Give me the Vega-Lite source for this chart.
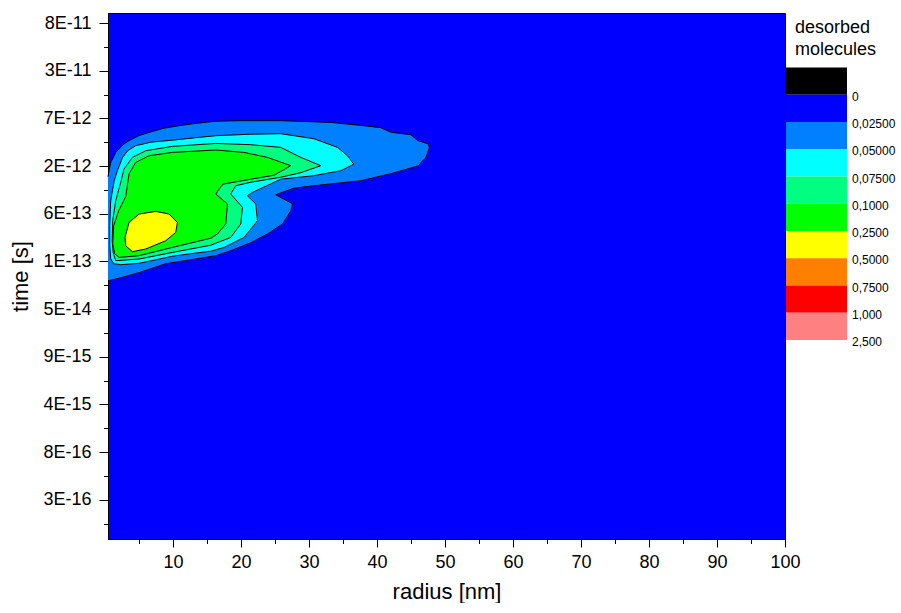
{
  "$schema": "https://vega.github.io/schema/vega-lite/v6.json",
  "padding": {"left": 9, "top": 12, "right": 0, "bottom": 0},
  "background": "white",
  "spacing": 1,
  "bounds": "flush",
  "resolve": {"scale": {"fill": "independent", "x": "independent", "y": "independent"}},
  "config": {"view": {"stroke": null}, "font": "Liberation Sans"},
  "hconcat": [
    {
      "width": 677,
      "height": 526,
      "view": {"fill": "#0000ff", "stroke": "#000000", "strokeWidth": 1},
      "data": {"values": [
        {"level":1,"i":0,"r":0.44,"t":6.776},{"level":1,"i":1,"r":0.588,"t":6.902},{"level":1,"i":2,"r":0.839,"t":7.070},{"level":1,"i":3,"r":1.574,"t":7.286},{"level":1,"i":4,"r":2.457,"t":7.426},{"level":1,"i":5,"r":3.531,"t":7.531},{"level":1,"i":6,"r":4.958,"t":7.636},{"level":1,"i":7,"r":6.473,"t":7.705},{"level":1,"i":8,"r":8.636,"t":7.793},{"level":1,"i":9,"r":10.887,"t":7.846},{"level":1,"i":10,"r":13.491,"t":7.898},{"level":1,"i":11,"r":16.286,"t":7.940},{"level":1,"i":12,"r":19.964,"t":7.951},{"level":1,"i":13,"r":25.849,"t":7.951},{"level":1,"i":14,"r":33.205,"t":7.915},{"level":1,"i":15,"r":38.060,"t":7.846},{"level":1,"i":16,"r":40.561,"t":7.804},{"level":1,"i":17,"r":42.032,"t":7.709},{"level":1,"i":18,"r":44.975,"t":7.657},{"level":1,"i":19,"r":46.004,"t":7.531},{"level":1,"i":20,"r":47.475,"t":7.468},{"level":1,"i":21,"r":47.696,"t":7.384},{"level":1,"i":22,"r":47.181,"t":7.174},{"level":1,"i":23,"r":46.446,"t":7.070},{"level":1,"i":24,"r":46.152,"t":7.007},{"level":1,"i":25,"r":42.032,"t":6.839},{"level":1,"i":26,"r":37.619,"t":6.692},{"level":1,"i":27,"r":30.704,"t":6.587},{"level":1,"i":28,"r":27.762,"t":6.535},{"level":1,"i":29,"r":25.114,"t":6.398},{"level":1,"i":30,"r":27.571,"t":6.209},{"level":1,"i":31,"r":27.321,"t":6.063},{"level":1,"i":32,"r":26.143,"t":5.790},{"level":1,"i":33,"r":23.937,"t":5.580},{"level":1,"i":34,"r":21.436,"t":5.391},{"level":1,"i":35,"r":18.493,"t":5.224},{"level":1,"i":36,"r":16.286,"t":5.119},{"level":1,"i":37,"r":12.608,"t":5.035},{"level":1,"i":38,"r":8.930,"t":4.951},{"level":1,"i":39,"r":6.723,"t":4.846},{"level":1,"i":40,"r":4.958,"t":4.762},{"level":1,"i":41,"r":2.310,"t":4.657},{"level":1,"i":42,"r":0.839,"t":4.605},{"level":1,"i":43,"r":0.44,"t":4.594},
        {"level":2,"i":0,"r":0.691,"t":5.748},{"level":2,"i":1,"r":0.691,"t":5.328},{"level":2,"i":2,"r":0.839,"t":5.056},{"level":2,"i":3,"r":1.280,"t":4.951},{"level":2,"i":4,"r":2.310,"t":4.930},{"level":2,"i":5,"r":4.958,"t":4.958},{"level":2,"i":6,"r":6.723,"t":5.010},{"level":2,"i":7,"r":9.916,"t":5.108},{"level":2,"i":8,"r":12.608,"t":5.161},{"level":2,"i":9,"r":15.551,"t":5.213},{"level":2,"i":10,"r":17.507,"t":5.293},{"level":2,"i":11,"r":20.450,"t":5.503},{"level":2,"i":12,"r":22.421,"t":5.853},{"level":2,"i":13,"r":22.171,"t":6.203},{"level":2,"i":14,"r":20.950,"t":6.377},{"level":2,"i":15,"r":21.685,"t":6.447},{"level":2,"i":16,"r":25.849,"t":6.724},{"level":2,"i":17,"r":30.704,"t":6.797},{"level":2,"i":18,"r":34.677,"t":6.902},{"level":2,"i":19,"r":36.589,"t":7.038},{"level":2,"i":20,"r":35.662,"t":7.216},{"level":2,"i":21,"r":34.191,"t":7.391},{"level":2,"i":22,"r":30.704,"t":7.573},{"level":2,"i":23,"r":25.849,"t":7.678},{"level":2,"i":24,"r":21.436,"t":7.668},{"level":2,"i":25,"r":16.286,"t":7.636},{"level":2,"i":26,"r":13.344,"t":7.594},{"level":2,"i":27,"r":9.916,"t":7.542},{"level":2,"i":28,"r":6.723,"t":7.500},{"level":2,"i":29,"r":4.517,"t":7.426},{"level":2,"i":30,"r":3.340,"t":7.321},{"level":2,"i":31,"r":2.560,"t":7.174},{"level":2,"i":32,"r":1.824,"t":6.902},{"level":2,"i":33,"r":1.354,"t":6.692},{"level":2,"i":34,"r":1.089,"t":6.482},{"level":2,"i":35,"r":0.839,"t":6.272},{"level":2,"i":36,"r":0.691,"t":5.748},
        {"level":3,"i":0,"r":2.795,"t":6.937},{"level":3,"i":1,"r":4.031,"t":7.181},{"level":3,"i":2,"r":5.988,"t":7.321},{"level":3,"i":3,"r":9.916,"t":7.412},{"level":3,"i":4,"r":16.286,"t":7.474},{"level":3,"i":5,"r":21.436,"t":7.447},{"level":3,"i":6,"r":25.849,"t":7.391},{"level":3,"i":7,"r":28.792,"t":7.181},{"level":3,"i":8,"r":31.734,"t":7.007},{"level":3,"i":9,"r":28.792,"t":6.860},{"level":3,"i":10,"r":25.849,"t":6.765},{"level":3,"i":11,"r":21.436,"t":6.660},{"level":3,"i":12,"r":19.229,"t":6.587},{"level":3,"i":13,"r":18.493,"t":6.413},{"level":3,"i":14,"r":20.215,"t":6.132},{"level":3,"i":15,"r":19.964,"t":5.784},{"level":3,"i":16,"r":18.493,"t":5.503},{"level":3,"i":17,"r":15.551,"t":5.339},{"level":3,"i":18,"r":9.916,"t":5.188},{"level":3,"i":19,"r":5.002,"t":5.049},{"level":3,"i":20,"r":1.574,"t":5.014},{"level":3,"i":21,"r":1.206,"t":5.182},{"level":3,"i":22,"r":1.059,"t":5.433},{"level":3,"i":23,"r":1.133,"t":5.853},{"level":3,"i":24,"r":1.574,"t":6.272},{"level":3,"i":25,"r":2.310,"t":6.656},{"level":3,"i":26,"r":2.795,"t":6.937},
        {"level":4,"i":0,"r":3.531,"t":6.833},{"level":4,"i":1,"r":4.517,"t":7.076},{"level":4,"i":2,"r":6.473,"t":7.216},{"level":4,"i":3,"r":9.916,"t":7.286},{"level":4,"i":4,"r":16.286,"t":7.336},{"level":4,"i":5,"r":20.406,"t":7.286},{"level":4,"i":6,"r":23.893,"t":7.181},{"level":4,"i":7,"r":27.321,"t":7.007},{"level":4,"i":8,"r":24.864,"t":6.807},{"level":4,"i":9,"r":21.436,"t":6.724},{"level":4,"i":10,"r":17.317,"t":6.619},{"level":4,"i":11,"r":16.286,"t":6.413},{"level":4,"i":12,"r":18.008,"t":6.203},{"level":4,"i":13,"r":17.758,"t":5.784},{"level":4,"i":14,"r":16.537,"t":5.574},{"level":4,"i":15,"r":15.551,"t":5.486},{"level":4,"i":16,"r":9.916,"t":5.293},{"level":4,"i":17,"r":5.002,"t":5.119},{"level":4,"i":18,"r":2.060,"t":5.083},{"level":4,"i":19,"r":1.427,"t":5.161},{"level":4,"i":20,"r":1.133,"t":5.370},{"level":4,"i":21,"r":1.280,"t":5.748},{"level":4,"i":22,"r":2.016,"t":6.063},{"level":4,"i":23,"r":3.045,"t":6.356},{"level":4,"i":24,"r":3.531,"t":6.833},
        {"level":5,"i":0,"r":3.531,"t":5.817},{"level":5,"i":1,"r":5.002,"t":5.993},{"level":5,"i":2,"r":7.459,"t":6.048},{"level":5,"i":3,"r":9.416,"t":5.993},{"level":5,"i":4,"r":10.652,"t":5.817},{"level":5,"i":5,"r":10.401,"t":5.607},{"level":5,"i":6,"r":8.930,"t":5.433},{"level":5,"i":7,"r":5.988,"t":5.259},{"level":5,"i":8,"r":4.031,"t":5.203},{"level":5,"i":9,"r":3.045,"t":5.328},{"level":5,"i":10,"r":2.943,"t":5.503},{"level":5,"i":11,"r":3.531,"t":5.817}
      ]},
      "mark": {"type": "line", "stroke": "#000000", "strokeWidth": 1, "interpolate": "linear"},
      "encoding": {
        "x": {
          "field": "r", "type": "quantitative",
          "scale": {"domain": [0.44, 100], "nice": false, "zero": false},
          "title": "radius [nm]",
          "axis": {
            "values": [5,10,15,20,25,30,35,40,45,50,55,60,65,70,75,80,85,90,95,100],
            "labelExpr": "datum.value % 10 === 0 ? datum.label : ''",
            "tickSize": {"condition": {"test": "datum.value % 10 !== 0", "value": 4.5}, "value": 8},
            "grid": false, "domainColor": "#000000", "tickColor": "#000000",
            "labelColor": "#000000", "titleColor": "#000000",
            "labelFontSize": 18, "titleFontSize": 22, "titleFontWeight": "normal",
            "labelPadding": 6, "titlePadding": 10, "labelFlush": false, "labelOverlap": false
          }
        },
        "y": {
          "field": "t", "type": "quantitative",
          "scale": {"domain": [-0.824, 10.21], "nice": false, "zero": false},
          "title": "time [s]",
          "axis": {
            "values": [-0.5,0,0.5,1,1.5,2,2.5,3,3.5,4,4.5,5,5.5,6,6.5,7,7.5,8,8.5,9,9.5,10],
            "labelExpr": "['3E-16','8E-16','4E-15','9E-15','5E-14','1E-13','6E-13','2E-12','7E-12','3E-11','8E-11'][datum.value] || ''",
            "tickSize": {"condition": {"test": "datum.value % 1 !== 0", "value": 4.5}, "value": 9},
            "grid": false, "domainColor": "#000000", "tickColor": "#000000",
            "labelColor": "#000000", "titleColor": "#000000",
            "labelFontSize": 18, "titleFontSize": 22, "titleFontWeight": "normal",
            "labelPadding": 8, "titlePadding": 10, "labelFlush": false, "labelOverlap": false
          }
        },
        "detail": {"field": "level"},
        "order": {"field": "i", "type": "quantitative"},
        "fill": {
          "field": "level", "type": "ordinal",
          "scale": {"domain": [1,2,3,4,5], "range": ["#0080ff","#00ffff","#00ff80","#00ff00","#ffff00"]},
          "legend": null
        }
      }
    },
    {
      "width": 61,
      "height": 327,
      "layer": [
        {
          "data": {"values": [
            {"slot":"below 0","label":"0"},
            {"slot":"0 to 0,025","label":"0,02500"},
            {"slot":"0,025 to 0,05","label":"0,05000"},
            {"slot":"0,05 to 0,075","label":"0,07500"},
            {"slot":"0,075 to 0,1","label":"0,1000"},
            {"slot":"0,1 to 0,25","label":"0,2500"},
            {"slot":"0,25 to 0,5","label":"0,5000"},
            {"slot":"0,5 to 0,75","label":"0,7500"},
            {"slot":"0,75 to 1","label":"1,000"},
            {"slot":"1 to 2,5","label":"2,500"}
          ]},
          "layer": [
            {
              "mark": {"type": "rect"},
              "encoding": {
                "y": {"field": "slot", "type": "nominal", "axis": null,
                  "scale": {"type": "band", "paddingInner": 0, "paddingOuter": 0,
                    "domain": ["t0","t1","below 0","0 to 0,025","0,025 to 0,05","0,05 to 0,075","0,075 to 0,1","0,1 to 0,25","0,25 to 0,5","0,5 to 0,75","0,75 to 1","1 to 2,5"]}},
                "fill": {"field": "slot", "type": "nominal", "legend": null,
                  "scale": {"domain": ["below 0","0 to 0,025","0,025 to 0,05","0,05 to 0,075","0,075 to 0,1","0,1 to 0,25","0,25 to 0,5","0,5 to 0,75","0,75 to 1","1 to 2,5"],
                    "range": ["#000000","#0000ff","#0080ff","#00ffff","#00ff80","#00ff00","#ffff00","#ff8000","#ff0000","#ff8080"]}}
              }
            },
            {
              "mark": {"type": "text", "align": "left", "baseline": "middle", "dx": 35.5, "dy": 2, "fontSize": 12, "color": "#000000"},
              "encoding": {
                "y": {"field": "slot", "type": "nominal", "bandPosition": 1, "axis": null},
                "text": {"field": "label"}
              }
            }
          ]
        },
        {
          "data": {"values": [{"slot": "t0", "text": "desorbed\nmolecules"}]},
          "mark": {"type": "text", "align": "left", "baseline": "middle", "lineBreak": "\n", "lineHeight": 22, "fontSize": 18, "dx": -21.5, "dy": -12, "color": "#000000"},
          "encoding": {
            "y": {"field": "slot", "type": "nominal", "bandPosition": 1, "axis": null},
            "text": {"field": "text"}
          }
        }
      ]
    }
  ]
}
